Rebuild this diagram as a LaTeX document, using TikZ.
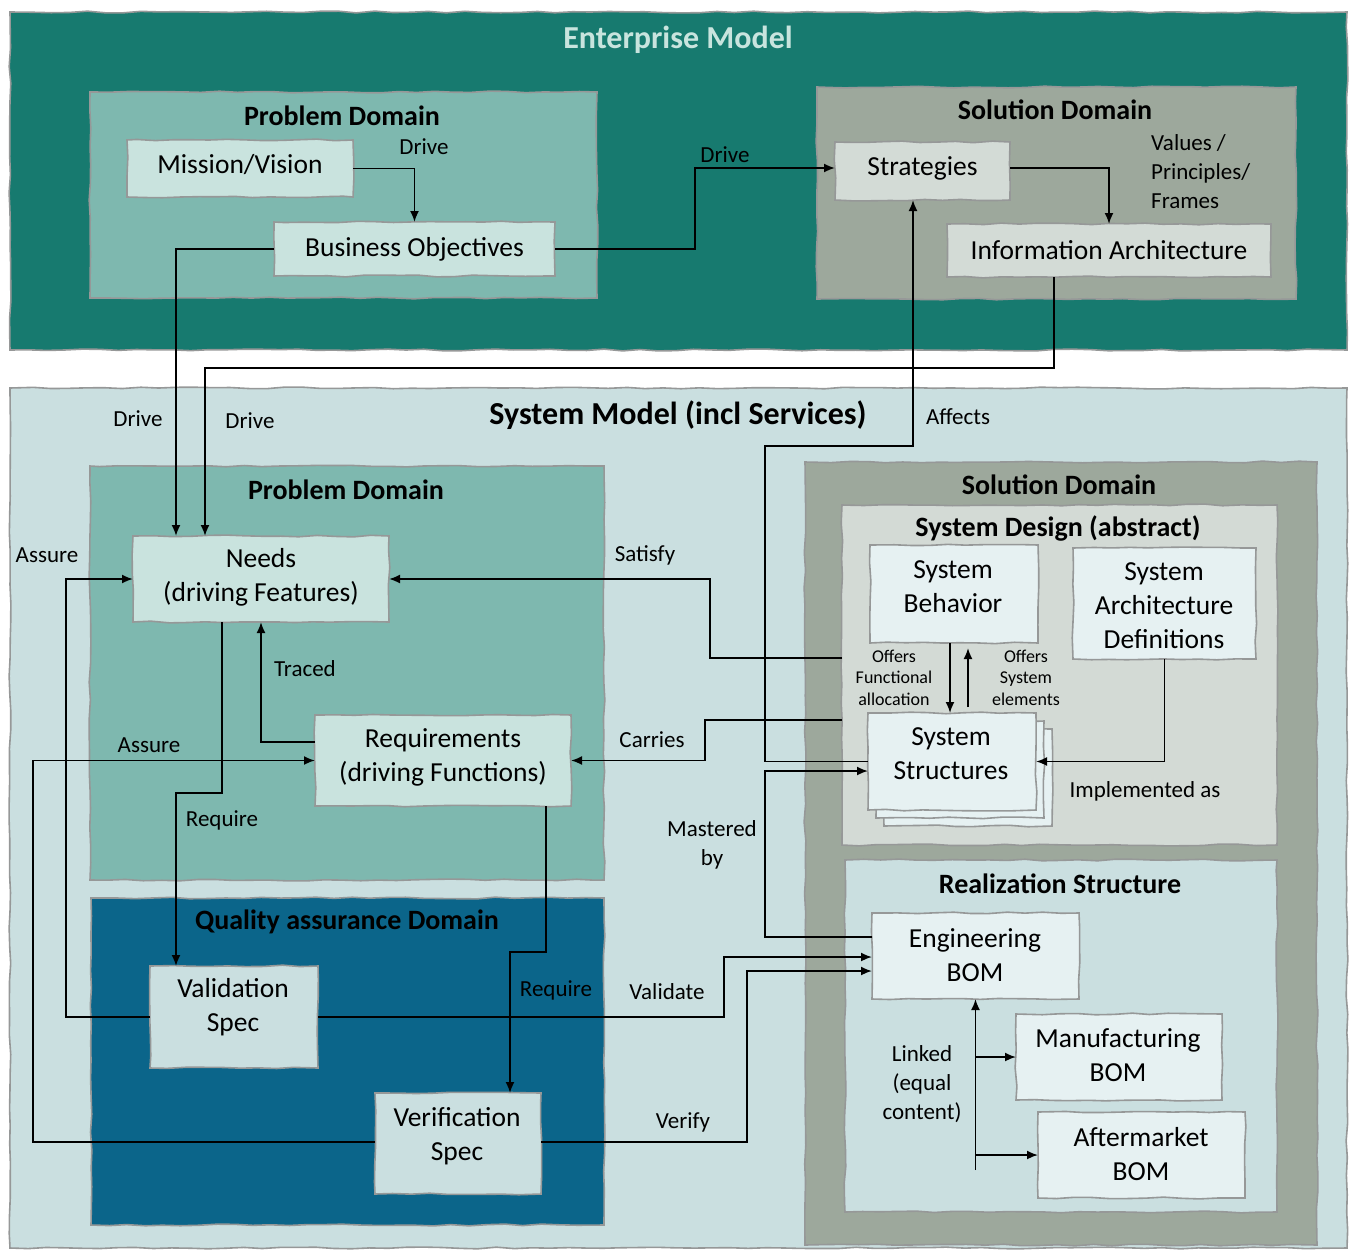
\documentclass[tikz,border=0pt]{standalone}
\usepackage{fontspec}
\setmainfont{Carlito}
\usetikzlibrary{arrows.meta,decorations.pathmorphing}

\definecolor{entteal}{RGB}{23,122,111}
\definecolor{probgreen}{RGB}{126,184,175}
\definecolor{probbox}{RGB}{201,227,222}
\definecolor{solgray}{RGB}{157,168,156}
\definecolor{solbox}{RGB}{211,219,214}
\definecolor{sysbg}{RGB}{202,223,224}
\definecolor{qablue}{RGB}{11,101,138}
\definecolor{designbg}{RGB}{211,218,213}
\definecolor{lightbox}{RGB}{230,241,242}
\definecolor{edgegray}{RGB}{150,152,152}
\definecolor{enttitle}{RGB}{200,228,222}

\tikzset{
  sketch/.style={decorate, decoration={random steps, segment length=18pt, amplitude=0.9pt}},
  region/.style={sketch, draw=edgegray, line width=1.6pt, inner sep=0pt, outer sep=0pt},
  box/.style={sketch, draw=edgegray, line width=1.6pt, inner sep=0pt, outer sep=0pt,
    align=center, font=\fontsize{27.5}{34}\selectfont},
  boxtext/.style={inner sep=0pt, align=center, font=\fontsize{27.5}{34}\selectfont},
  ttl/.style={font=\bfseries\fontsize{28}{33}\selectfont, inner sep=0pt},
  bigttl/.style={font=\bfseries\fontsize{32}{38}\selectfont, inner sep=0pt},
  lbl/.style={font=\fontsize{23}{29}\selectfont, align=center, inner sep=0pt},
  smalllbl/.style={font=\fontsize{18}{21.5}\selectfont, align=center, inner sep=0pt},
  conn/.style={line width=1.8pt, draw=black},
  arr/.style={conn, -{Latex[length=11pt,width=9pt]}},
}

\begin{document}
\pgfmathsetseed{7}
\begin{tikzpicture}[x=1pt,y=-1pt]
\useasboundingbox (0,0) rectangle (1351,1250);

% ---------- Enterprise model ----------
\node[region, fill=entteal, minimum width=1337pt, minimum height=338pt] (ent) at (678.5,181) {};
\node[bigttl, text=enttitle] (entT) at (678,40) {Enterprise Model};

\node[region, fill=probgreen, minimum width=507pt, minimum height=206pt] (pdA) at (343.5,195) {};
\node[ttl] (pdAT) at (342,116) {Problem Domain};

\node[region, fill=solgray, minimum width=479pt, minimum height=212pt] (sdA) at (1056.5,193) {};
\node[ttl] (sdAT) at (1055,110) {Solution Domain};

\node[box, fill=probbox, minimum width=226pt, minimum height=57pt] (mission) at (240,168.5) {};
\node[boxtext] (missionT) at (240,165) {Mission/Vision};
\node[box, fill=probbox, minimum width=281pt, minimum height=54pt] (bizobj) at (414.5,249) {Business Objectives};
\node[box, fill=solbox, minimum width=175pt, minimum height=58pt] (strat) at (922.5,171) {};
\node[boxtext] (stratT) at (922.5,168) {Strategies};
\node[box, fill=solbox, minimum width=324pt, minimum height=53pt] (ia) at (1109,250.5) {Information Architecture};

\node[lbl, anchor=west, align=left] (values) at (1151,172) {Values /\\Principles/\\Frames};

% ---------- System model ----------
\node[region, fill=sysbg, minimum width=1337pt, minimum height=860pt] (sys) at (678.5,818) {};
\node[bigttl] (sysT) at (678,415) {System Model (incl Services)};

\node[region, fill=probgreen, minimum width=514pt, minimum height=414pt] (pdB) at (347,673) {};
\node[ttl] (pdBT) at (346,490) {Problem Domain};

\node[region, fill=qablue, minimum width=513pt, minimum height=327pt] (qa) at (347.5,1061.5) {};
\node[ttl] (qaT) at (347,922) {Quality assurance Domain};

\node[region, fill=solgray, minimum width=512pt, minimum height=783pt] (sdB) at (1061,853.5) {};
\node[ttl] (sdBT) at (1059,485) {Solution Domain};

\node[region, fill=designbg, minimum width=435pt, minimum height=340pt] (sdesign) at (1059.5,675) {};
\node[ttl] (sdesignT) at (1058,528) {System Design (abstract)};

\node[region, fill=sysbg, minimum width=432pt, minimum height=352pt] (real) at (1061,1036) {};
\node[ttl] (realT) at (1060,884) {Realization Structure};

% boxes
\node[box, fill=probbox, minimum width=256pt, minimum height=86pt] (needs) at (261,579) {};
\node[boxtext] (needsT) at (261,577) {Needs\\(driving Features)};
\node[box, fill=probbox, minimum width=256pt, minimum height=91pt] (req) at (443,760.5) {};
\node[boxtext] (reqT) at (443,757) {Requirements\\(driving Functions)};
\node[box, fill=sysbg, minimum width=168pt, minimum height=102pt] (val) at (234,1017) {};
\node[boxtext] (valT) at (233,1007) {Validation\\Spec};
\node[box, fill=sysbg, minimum width=166pt, minimum height=101pt] (ver) at (458,1143.5) {};
\node[boxtext] (verT) at (457,1136) {Verification\\Spec};

\node[box, fill=lightbox, minimum width=168pt, minimum height=98pt] (sb) at (954,594) {};
\node[boxtext] (sbT) at (953,587) {System\\Behavior};
\node[box, fill=lightbox, minimum width=183pt, minimum height=111pt] (sad) at (1164.5,603.5) {};
\node[boxtext] (sadT) at (1164,606) {System\\Architecture\\Definitions};
\node[box, fill=lightbox, minimum width=168pt, minimum height=97pt] (ss3) at (968,777.5) {};
\node[box, fill=lightbox, minimum width=168pt, minimum height=97pt] (ss2) at (960,769.5) {};
\node[box, fill=lightbox, minimum width=168pt, minimum height=97pt] (ss) at (952,761.5) {};
\node[boxtext] (ssT) at (951,753.5) {System\\Structures};

\node[box, fill=lightbox, minimum width=207pt, minimum height=86pt] (eb) at (975.5,956) {};
\node[boxtext] (ebT) at (975,955) {Engineering\\BOM};
\node[box, fill=lightbox, minimum width=206pt, minimum height=86pt] (mb) at (1119,1057) {};
\node[boxtext] (mbT) at (1118,1055.5) {Manufacturing\\BOM};
\node[box, fill=lightbox, minimum width=207pt, minimum height=86pt] (ab) at (1141.5,1155) {};
\node[boxtext] (abT) at (1141,1154.5) {Aftermarket\\BOM};

% ---------- connectors ----------
\draw[arr] (mission.east) -| (bizobj.north);
\draw[arr] (bizobj.east) -| (695,168) -- ([yshift=3pt]strat.west);
\draw[arr] ([yshift=3pt]strat.east) -| (ia.north);

\draw[arr] (bizobj.west) -| ([xshift=43pt]needs.north west);
\draw[arr] ([xshift=-55pt]ia.south) -- ++(0,91) -| ([xshift=72pt]needs.north west);

\draw[arr] (ss.west) -| (765,446) -| ([xshift=-9.5pt]strat.south);
\draw[arr] ([yshift=19pt]eb.west) -| (765,771) -- ([yshift=-9.5pt]ss.west);

\coordinate (xsat) at (710,0);
\coordinate (xcar) at (705,0);
\draw[arr] ([yshift=17pt]sdesign.west) -| (xsat |- needs.east) -- (needs.east);
\draw[arr] ([yshift=-45pt]sdesign.west) -| (xcar |- req.east) -- (req.east);

\draw[arr] ([yshift=18.5pt]req.west) -| (needs.south);
\draw[arr] ([xshift=-39pt]needs.south) -- ++(0,171) -| ([xshift=-58pt]val.north);
\draw[arr] ([xshift=103pt]req.south) -- ++(0,146) -| ([xshift=52pt]ver.north);

\coordinate (xas1) at (66,0);
\coordinate (xas2) at (33,0);
\draw[arr] (val.west) -| (xas1 |- needs.west) -- (needs.west);
\draw[arr] ([yshift=1.5pt]ver.west) -| (xas2 |- req.west) -- (req.west);

\draw[arr] (val.east) -- (724,1017) |- ([yshift=-1pt]eb.west);
\draw[arr] ([yshift=1.5pt]ver.east) -- (747,1142) |- ([yshift=-15pt]eb.west);

\draw[arr] ([xshift=-4pt]sb.south) -- ([xshift=-2pt]ss.north);
\draw[arr] ([xshift=16pt,yshift=6pt]ss.north) -- ([xshift=14pt,yshift=-5pt]sb.south);
\draw[arr] (sad.south) |- (ss.east);

\coordinate (lk) at (975.5,1170);
\draw[arr] (lk) -- (eb.south);
\draw[arr] (lk |- mb.west) -- (mb.west);
\draw[arr] (lk |- ab.west) -- (ab.west);

% ---------- connector labels ----------
\node[lbl] (lDrive1) at (424,147) {Drive};
\node[lbl] (lDrive2) at (725,155) {Drive};
\node[lbl] (lDrive3) at (138,419) {Drive};
\node[lbl] (lDrive4) at (250,421) {Drive};
\node[lbl] (lAffects) at (958,417) {Affects};
\node[lbl] (lSatisfy) at (645,555) {Satisfy};
\node[lbl] (lCarries) at (652,740) {Carries};
\node[lbl] (lTraced) at (305,669) {Traced};
\node[lbl] (lAssure1) at (47,555) {Assure};
\node[lbl] (lAssure2) at (149,745) {Assure};
\node[lbl] (lReq1) at (222,820) {Require};
\node[lbl] (lReq2) at (556,990) {Require};
\node[lbl] (lValidate) at (667,992) {Validate};
\node[lbl] (lVerify) at (683,1122) {Verify};
\node[lbl] (lMaster) at (712,845) {Mastered\\by};
\node[lbl] (lImpl) at (1145,791) {Implemented as};
\node[lbl] (lLinked) at (922,1084.5) {Linked\\(equal\\content)};
\node[smalllbl] (lOffF) at (894,677.5) {Offers\\Functional\\allocation};
\node[smalllbl] (lOffS) at (1026,677.5) {Offers\\System\\elements};

\end{tikzpicture}
\end{document}
